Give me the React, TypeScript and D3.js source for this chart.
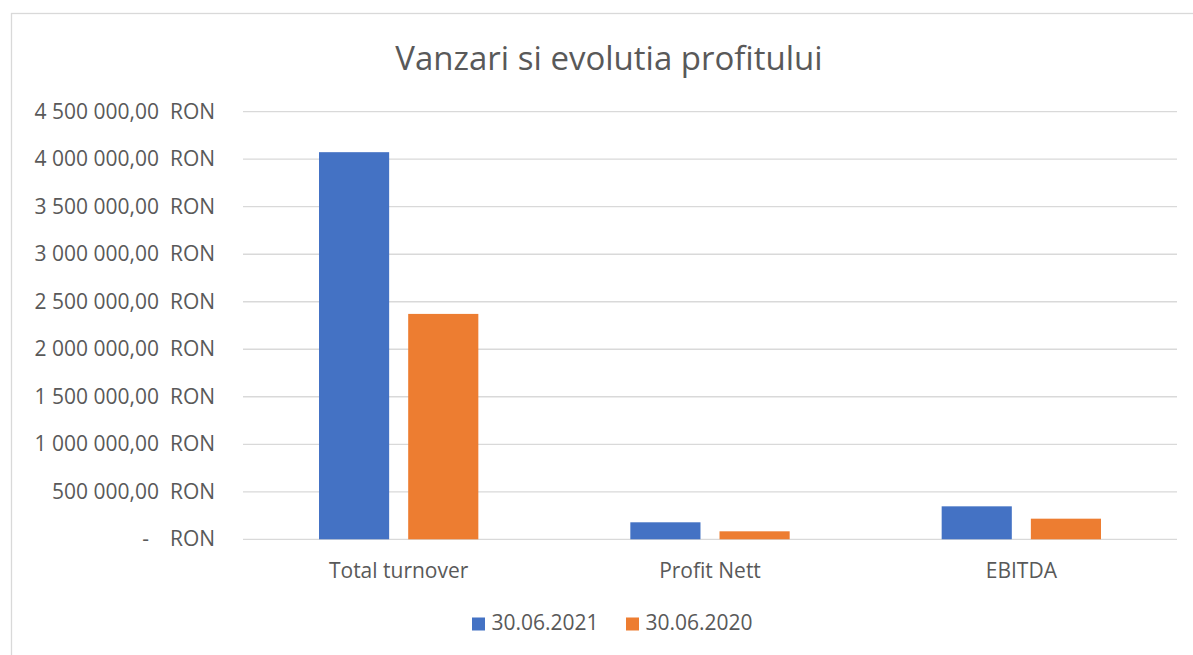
import React from 'react';
import * as d3 from 'd3';

const categories = ['Total turnover', 'Profit Nett', 'EBITDA'];
const seriesNames = ['30.06.2021', '30.06.2020'];
const values2021 = [4074000, 179000, 347000];
const values2020 = [2372000, 84000, 217000];
const yTicks = [0, 500000, 1000000, 1500000, 2000000, 2500000, 3000000, 3500000, 4000000, 4500000];

const colors = ['#4472C4', '#ED7D31'];
const textColor = '#595959';
const gridColor = '#d9d9d9';
const font = '"Open Sans", "Noto Sans", sans-serif';

const ro = d3.formatLocale({ decimal: ',', thousands: ' ', grouping: [3], currency: ['', ' RON'] });
const fmt = ro.format(',.2f');

const App: React.FC = () => {
  const width = 1193;
  const height = 655;
  const plot = { left: 243, right: 1177, top: 111.7, bottom: 539.3 };
  const fs = 21;

  const y = d3.scaleLinear().domain([0, 4500000]).range([plot.bottom, plot.top]);
  const x0 = d3.scaleBand<string>().domain(categories).range([plot.left, plot.right]).padding(0);
  const groupPad = 76;
  const x1 = d3
    .scaleBand<string>()
    .domain(seriesNames)
    .range([groupPad, x0.bandwidth() - groupPad])
    .paddingInner(0.2135)
    .paddingOuter(0);

  const series = [values2021, values2020];

  return (
    <svg
      width={width}
      height={height}
      style={{ position: 'absolute', left: 0, top: 0, background: '#fff' }}
      fontFamily={font}
    >
      <rect x={11.5} y={13.5} width={width + 10} height={height + 10} fill="#fff" stroke={gridColor} strokeWidth={1.3} />

      <text x={609} y={69.5} textAnchor="middle" fontSize={33} fill={textColor}>
        Vanzari si evolutia profitului
      </text>

      {/* grid + y labels */}
      {yTicks.map((t) => (
        <g key={t}>
          <line x1={plot.left} x2={plot.right} y1={y(t)} y2={y(t)} stroke={gridColor} strokeWidth={1.3} />
          <text
            x={t === 0 ? 149 : 159}
            y={y(t) + 7}
            textAnchor="end"
            fontSize={fs}
            fill={textColor}
          >
            {t === 0 ? '-' : fmt(t)}
          </text>
          <text x={170} y={y(t) + 7} textAnchor="start" fontSize={fs} fill={textColor}>
            RON
          </text>
        </g>
      ))}

      {/* bars */}
      {categories.map((c, i) => (
        <g key={c} transform={`translate(${x0(c)},0)`}>
          {seriesNames.map((s, j) => (
            <rect
              key={s}
              x={x1(s)}
              y={y(series[j][i])}
              width={x1.bandwidth()}
              height={y(0) - y(series[j][i])}
              fill={colors[j]}
            />
          ))}
          <text
            x={x0.bandwidth() / 2}
            y={578.3}
            textAnchor="middle"
            fontSize={fs}
            fill={textColor}
          >
            {c}
          </text>
        </g>
      ))}

      {/* legend */}
      {seriesNames.map((s, j) => (
        <g key={s} transform={`translate(${472 + j * 154},0)`}>
          <rect x={0} y={617.5} width={13} height={13} fill={colors[j]} />
          <text x={19.5} y={630} fontSize={fs} fill={textColor}>
            {s}
          </text>
        </g>
      ))}
    </svg>
  );
};

export default App;
